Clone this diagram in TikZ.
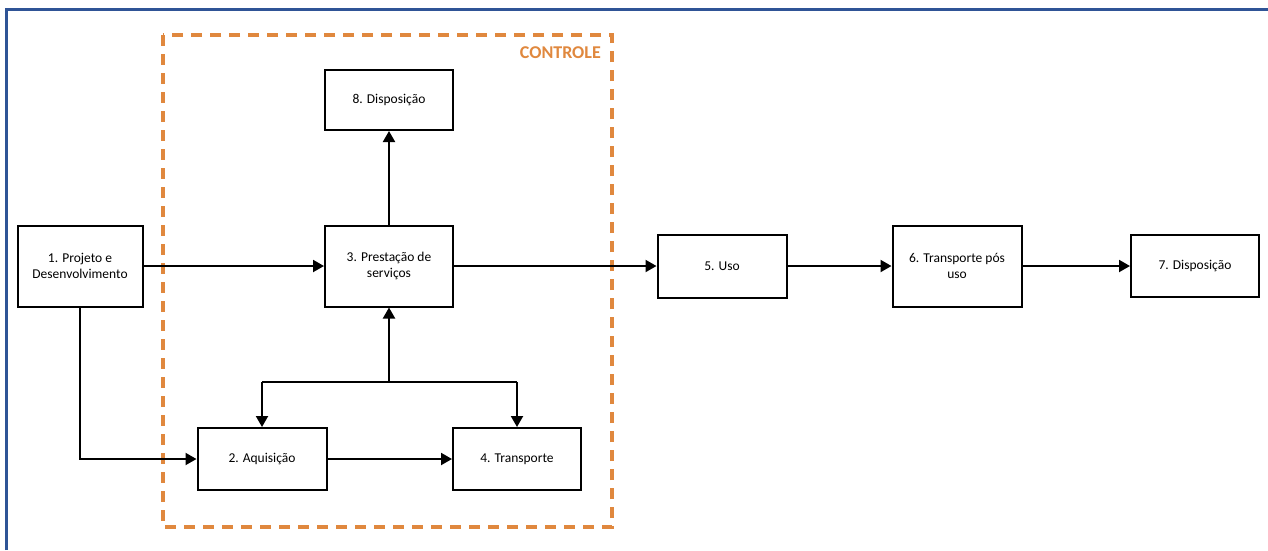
\documentclass[tikz,border=0pt]{standalone}
\usepackage{fontspec}
\setmainfont{Carlito}
\usetikzlibrary{arrows.meta}
\definecolor{frameblue}{RGB}{47,84,150}
\definecolor{ctrlorange}{RGB}{224,136,62}
\tikzset{
  box/.style={draw=black, line width=2pt, fill=white, minimum width=#1, align=center, font=\fontsize{13.5}{16}\selectfont, inner sep=2pt},
  box/.default={128pt},
  conn/.style={line width=2pt, -{Triangle[length=11pt,width=12pt]}},
  plain/.style={line width=2pt},
}
\begin{document}
\begin{tikzpicture}[x=1pt,y=-1pt]
\useasboundingbox (0,0) rectangle (1268,550);
\fill[white] (0,0) rectangle (1268,550);
% outer frame
\draw[frameblue, line width=3pt] (6,550) -- (6,9) -- (1268,9);
% control area
\draw[ctrlorange, line width=3.5pt, dash pattern=on 11pt off 8pt] (163,35) rectangle (612,527);
\node[ctrlorange, font=\fontsize{18}{21}\selectfont\bfseries, anchor=east, inner sep=0pt] (ctrl) at (601,53) {CONTROLE};
% nodes
\node[box=125pt, minimum height=81pt] (n1) at (80,266) {1. Projeto e\\Desenvolvimento};
\node[box, minimum height=81pt] (n3) at (389,266) {3. Prestação de\\serviços};
\node[box, minimum height=60pt] (n8) at (389,100) {8. Disposição};
\node[box=129pt, minimum height=63pt] (n5) at (722,266) {5. Uso};
\node[box=129pt, minimum height=81pt] (n6) at (957,266) {6. Transporte pós\\uso};
\node[box, minimum height=62pt] (n7) at (1195,266) {7. Disposição};
\node[box=129pt, minimum height=62pt] (n2) at (262,459) {2. Aquisição};
\node[box, minimum height=62pt] (n4) at (517,459) {4. Transporte};
\coordinate (split) at (389,382);
% connectors
\draw[conn] (n1) -- (n3);
\draw[conn] (n3) -- (n5);
\draw[conn] (n5) -- (n6);
\draw[conn] (n6) -- (n7);
\draw[conn] (n3) -- (n8);
\draw[conn] (n1.south) |- (n2.west);
\draw[conn] (split) -- (n3.south);
\draw[plain] (split -| n2.north) -- (split -| n4.north);
\draw[conn] (split -| n2.north) -- (n2.north);
\draw[conn] (split -| n4.north) -- (n4.north);
\draw[conn] (n2) -- (n4);
\end{tikzpicture}
\end{document}
